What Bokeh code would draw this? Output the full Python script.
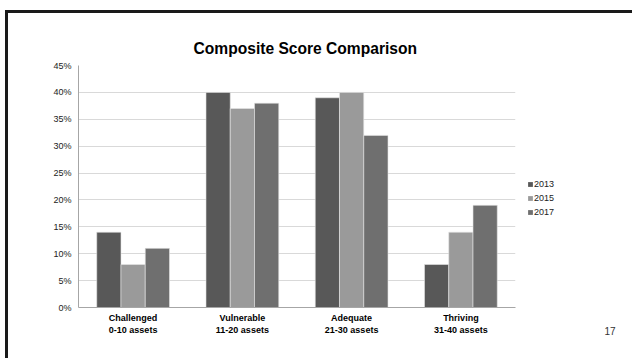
from bokeh.plotting import figure
from bokeh.layouts import row
from bokeh.models import FactorRange, Legend, LegendItem, Title, NumeralTickFormatter, ColumnDataSource
from bokeh.transform import dodge
from bokeh.embed import file_html
from bokeh.resources import INLINE

categories = ["Challenged\n0-10 assets", "Vulnerable\n11-20 assets", "Adequate\n21-30 assets", "Thriving\n31-40 assets"]
years = ["2013", "2015", "2017"]
v2013 = [0.14, 0.40, 0.39, 0.08]
v2015 = [0.08, 0.37, 0.40, 0.14]
v2017 = [0.11, 0.38, 0.32, 0.19]
colors = ["#585858", "#9a9a9a", "#6f6f6f"]
y_ticks = [0, 0.05, 0.10, 0.15, 0.20, 0.25, 0.30, 0.35, 0.40, 0.45]
page_number = "17"

src = ColumnDataSource(dict(cat=categories, y2013=v2013, y2015=v2015, y2017=v2017))

FONT = "Liberation Sans"

p = figure(x_range=FactorRange(*categories), y_range=(0, 0.45),
           width=512, height=345, output_backend="svg", toolbar_location=None,
           min_border_left=70, min_border_right=5, min_border_top=52, min_border_bottom=51,
           title="Composite Score Comparison")

p.title.align = "left"
p.title.text_font = FONT
p.title.text_font_size = "15.6px"
p.title.text_font_style = "bold"
p.title.text_color = "#000000"
p.title.offset = 115
p.title.standoff = 17

for i, (yr, col) in enumerate(zip(years, colors)):
    p.vbar(x=dodge("cat", (i - 1) * 0.222, range=p.x_range), top="y" + yr, width=0.222,
           source=src, fill_color=col, line_color="#e6e6e6", line_width=0.6)

p.yaxis.ticker = y_ticks
p.yaxis.formatter = NumeralTickFormatter(format="0%")
p.yaxis.major_label_text_font = FONT
p.yaxis.major_label_text_font_size = "9px"
p.yaxis.major_label_text_color = "#222222"
p.yaxis.major_tick_line_color = None
p.yaxis.major_tick_out = 0
p.yaxis.minor_tick_line_color = None
p.yaxis.axis_line_color = "#a6a6a6"
p.yaxis.major_label_standoff = 7

p.xaxis.major_label_text_font = FONT
p.xaxis.major_label_text_font_size = "9px"
p.xaxis.major_label_text_font_style = "bold"
p.xaxis.major_label_text_color = "#000000"
p.xaxis.major_tick_line_color = None
p.xaxis.major_tick_out = 0
p.xaxis.axis_line_color = "#a6a6a6"
p.xaxis.major_label_standoff = 5

p.xgrid.grid_line_color = None
p.ygrid.grid_line_color = "#d9d9d9"
p.outline_line_color = None

# side panel holding the legend and the page number
p2 = figure(width=112, height=345, x_range=(0, 1), y_range=(0, 1), output_backend="svg",
            toolbar_location=None, x_axis_location=None, y_axis_location=None,
            min_border=0, outline_line_color=None)
p2.xgrid.grid_line_color = None
p2.ygrid.grid_line_color = None
swatches = []
for yr, col in zip(years, colors):
    r = p2.vbar(x=[5], top=[0], width=0.1, fill_color=col, line_color=None)
    swatches.append(r)

legend = Legend(items=[LegendItem(label=yr, renderers=[r]) for yr, r in zip(years, swatches)],
                location=(7, 90), glyph_width=6, glyph_height=6, label_text_font_size="9px",
                label_text_font=FONT, label_text_color="#222222", spacing=4, padding=0,
                label_standoff=1, border_line_color=None, background_fill_alpha=0, label_height=10,
                margin=0)
p2.add_layout(legend)

p2.add_layout(Title(text=page_number, align="right", offset=17, standoff=34,
                    text_font=FONT, text_font_size="10px", text_font_style="normal",
                    text_color="#333333"), "below")

layout = row(p, p2, spacing=0)
layout.styles = {"border-left": "3px solid #1a1a1a", "border-top": "3px solid #1a1a1a",
                 "margin-left": "5px", "margin-top": "10px"}

open("out.html", "w").write(file_html(layout, INLINE))
